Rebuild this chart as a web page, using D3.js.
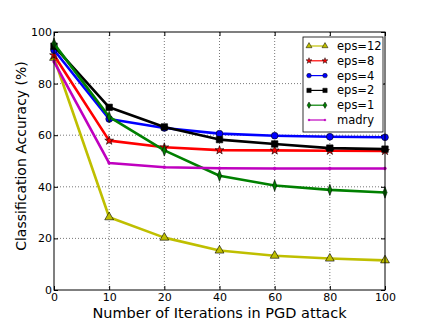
<!DOCTYPE html>
<html>
<head>
<style>
 body { margin: 0; background: #fff; }
 text { font-family: "DejaVu Sans", sans-serif; }
 .grid line { stroke: #555; stroke-dasharray: 1,2; stroke-width: 0.8; }
</style>
</head>
<body>
<svg width="428" height="323"></svg>
<script src="https://cdnjs.cloudflare.com/ajax/libs/d3/7.8.5/d3.min.js"></script>
<script>
var iterations = [0, 10, 20, 40, 60, 80, 100];
var yTicks = [0, 20, 40, 60, 80, 100];

var eps12 = [90.0, 28.2, 20.3, 15.3, 13.3, 12.2, 11.5];
var eps8  = [91.0, 57.9, 55.3, 54.2, 54.1, 54.0, 53.9];
var eps4  = [93.0, 66.3, 62.8, 60.6, 59.8, 59.4, 59.2];
var eps2  = [94.5, 70.8, 63.2, 58.3, 56.6, 55.0, 54.6];
var eps1  = [95.5, 67.1, 54.1, 44.3, 40.5, 38.8, 37.8];
var madry = [88.5, 49.2, 47.6, 47.2, 47.1, 47.1, 47.1];

var series = [
  { name: 'eps=12', values: eps12, color: '#bfbf00', marker: 'triangle', size: 34 },
  { name: 'eps=8',  values: eps8,  color: '#ff0000', marker: 'star', size: 24 },
  { name: 'eps=4',  values: eps4,  color: '#0000ff', marker: 'circle', size: 36 },
  { name: 'eps=2',  values: eps2,  color: '#000000', marker: 'square', size: 42 },
  { name: 'eps=1',  values: eps1,  color: '#008000', marker: 'diamond', size: 26 },
  { name: 'madry',  values: madry, color: '#bf00bf', marker: 'point', size: 6 }
];

var svg = d3.select('svg');
var mLeft = 54, mRight = 385, mTop = 32, mBottom = 290;

var x = d3.scalePoint().domain(iterations).range([mLeft, mRight]);
var y = d3.scaleLinear().domain([0, 100]).range([mBottom, mTop]);

// grid
var grid = svg.append('g').attr('class', 'grid');
grid.selectAll('.gx').data(iterations.slice(1, -1)).enter().append('line')
    .attr('x1', d => x(d)).attr('x2', d => x(d)).attr('y1', mTop).attr('y2', mBottom);
grid.selectAll('.gy').data(yTicks.slice(1, -1)).enter().append('line')
    .attr('x1', mLeft).attr('x2', mRight).attr('y1', d => y(d)).attr('y2', d => y(d));

// axes (ticks inward)
svg.append('g').attr('transform', 'translate(0,' + mBottom + ')')
   .call(d3.axisBottom(x).tickSizeInner(-4).tickSizeOuter(0).tickPadding(3))
   .call(g => g.select('.domain').remove());
svg.append('g').attr('transform', 'translate(0,' + mTop + ')')
   .call(d3.axisTop(x).tickSizeInner(-4).tickSizeOuter(0).tickFormat(''))
   .call(g => g.select('.domain').remove());
svg.append('g').attr('transform', 'translate(' + mLeft + ',0)')
   .call(d3.axisLeft(y).tickValues(yTicks).tickSizeInner(-4).tickSizeOuter(0).tickPadding(2))
   .call(g => g.select('.domain').remove());
svg.append('g').attr('transform', 'translate(' + mRight + ',0)')
   .call(d3.axisRight(y).tickValues(yTicks).tickSizeInner(-4).tickSizeOuter(0).tickFormat(''))
   .call(g => g.select('.domain').remove());
svg.selectAll('.tick text').attr('font-size', 11).attr('fill', '#000')
   .style('font-family', '"DejaVu Sans", sans-serif');
svg.selectAll('.tick line').attr('stroke', '#000');

var symbols = {
  triangle: d3.symbolTriangle, star: d3.symbolStar, circle: d3.symbolCircle,
  square: d3.symbolSquare, diamond: d3.symbolDiamond, point: d3.symbolCircle
};

function markerPath(s) {
  var sym = d3.symbol().type(symbols[s.marker]).size(s.size);
  return sym();
}

var line = d3.line().x((d, i) => x(iterations[i])).y(d => y(d));

series.forEach(function(s) {
  var g = svg.append('g');
  g.append('path').datum(s.values).attr('d', line)
   .attr('fill', 'none').attr('stroke', s.color).attr('stroke-width', 2.6)
   .attr('stroke-linejoin', 'round');
  g.selectAll('path.m').data(s.values).enter().append('path').attr('class', 'm')
   .attr('d', markerPath(s))
   .attr('transform', (d, i) => 'translate(' + x(iterations[i]) + ',' + y(d) + ')' + (s.marker === 'diamond' ? ' scale(0.75,1.2)' : ''))
   .attr('fill', s.color).attr('stroke', s.marker === 'point' ? s.color : '#000').attr('stroke-width', 0.6);
});

// frame
svg.append('rect').attr('x', mLeft).attr('y', mTop).attr('width', mRight - mLeft).attr('height', mBottom - mTop)
   .attr('fill', 'none').attr('stroke', '#000').attr('stroke-width', 1);

// legend
var lg = svg.append('g');
lg.append('rect').attr('x', 303).attr('y', 37).attr('width', 80).attr('height', 95)
  .attr('fill', '#fff').attr('stroke', '#000').attr('stroke-width', 0.8);
series.forEach(function(s, i) {
  var ly = 46 + i * 14.8;
  lg.append('line').attr('x1', 309).attr('x2', 325).attr('y1', ly).attr('y2', ly)
    .attr('stroke', s.color).attr('stroke-width', 1.2);
  [309, 325].forEach(function(lx) {
    lg.append('path').attr('d', d3.symbol().type(symbols[s.marker]).size(s.size * 0.45)())
      .attr('transform', 'translate(' + lx + ',' + ly + ')')
      .attr('fill', s.color).attr('stroke', s.marker === 'point' ? s.color : '#000').attr('stroke-width', 0.5);
  });
  lg.append('text').attr('x', 337).attr('y', ly).attr('dy', '0.35em')
    .attr('font-size', 11.5).text(s.name);
});

// axis labels
svg.append('text').attr('x', (mLeft + mRight) / 2).attr('y', 318).attr('text-anchor', 'middle')
   .attr('font-size', 14.5).text('Number of Iterations in PGD attack');
svg.append('text').attr('transform', 'translate(26,' + ((mTop + mBottom) / 2 - 5) + ') rotate(-90)')
   .attr('text-anchor', 'middle').attr('font-size', 14).text('Classification Accuracy (%)');
</script>
</body>
</html>
